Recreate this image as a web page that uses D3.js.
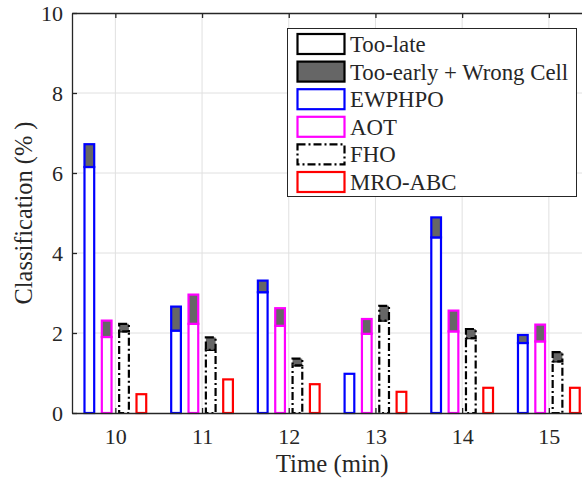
<!DOCTYPE html>
<html>
<head>
<meta charset="utf-8">
<script src="https://cdnjs.cloudflare.com/ajax/libs/d3/7.8.5/d3.min.js"></script>
<style>
  body { margin: 0; background: #fff; }
  text { font-family: "Liberation Serif", "Times New Roman", serif; fill: #262626; }
</style>
</head>
<body>
<div id="chart"></div>
<script>
var times = [10, 11, 12, 13, 14, 15];
var yTicks = [0, 2, 4, 6, 8, 10];

// too-late part (bottom) and too-early + wrong cell part (top), %
var ewphpoLate  = [6.15, 2.06, 3.02, 0.98, 4.39, 1.75];
var ewphpoEarly = [0.57, 0.60, 0.29, 0.00, 0.50, 0.20];
var aotLate     = [1.90, 2.23, 2.18, 1.98, 2.04, 1.79];
var aotEarly    = [0.41, 0.73, 0.44, 0.37, 0.52, 0.42];
var fhoLate     = [2.04, 1.58, 1.19, 2.31, 1.87, 1.29];
var fhoEarly    = [0.19, 0.31, 0.17, 0.37, 0.23, 0.23];
var mroLate     = [0.47, 0.84, 0.72, 0.53, 0.63, 0.63];
var mroEarly    = [0, 0, 0, 0, 0, 0];

var legendLabels = ["Too-late", "Too-early + Wrong Cell", "EWPHPO", "AOT", "FHO", "MRO-ABC"];

const DASHDOT = "8,3,2,3";

var series = [
    { name: "EWPHPO", late: ewphpoLate, early: ewphpoEarly, color: "#0000ff", dash: null, off: -0.3 },
    { name: "AOT", late: aotLate, early: aotEarly, color: "#ff00ff", dash: null, off: -0.1 },
    { name: "FHO", late: fhoLate, early: fhoEarly, color: "#000000", dash: DASHDOT, off: 0.1 },
    { name: "MRO-ABC", late: mroLate, early: mroEarly, color: "#ff0000", dash: null, off: 0.3 }
];

const W = 582, H = 478;
const LEFT = 72, TOP = 13, BOTTOM = 413;
const BAR_W = 0.112;
const DARK = "#666666";
const AXIS = "#262626";
const FONT = "'Liberation Serif', 'Times New Roman', serif";

var svg = d3.select("#chart").append("svg")
    .attr("width", W)
    .attr("height", H);

var x = d3.scaleLinear().domain([9.5, 15.5]).range([LEFT, LEFT + 6 * 86.7]);
var y = d3.scaleLinear().domain([0, 10]).range([BOTTOM, TOP]);

// grid
svg.append("g")
    .selectAll("line")
    .data(times)
    .enter()
    .append("line")
    .attr("x1", function (d) { return x(d); })
    .attr("x2", function (d) { return x(d); })
    .attr("y1", TOP)
    .attr("y2", BOTTOM)
    .attr("stroke", "#e0e0e0")
    .attr("stroke-width", 1);

svg.append("g")
    .selectAll("line")
    .data(yTicks.slice(1, -1))
    .enter()
    .append("line")
    .attr("x1", LEFT)
    .attr("x2", W)
    .attr("y1", function (d) { return y(d); })
    .attr("y2", function (d) { return y(d); })
    .attr("stroke", "#e0e0e0")
    .attr("stroke-width", 1);

// bars
series.forEach(function (s) {
    var g = svg.append("g");
    g.selectAll("rect.late")
        .data(times)
        .enter()
        .append("rect")
        .attr("class", "late")
        .attr("x", function (d) { return x(d + s.off - BAR_W / 2); })
        .attr("width", function () { return x(BAR_W) - x(0); })
        .attr("y", function (d, i) { return y(s.late[i]); })
        .attr("height", function (d, i) { return y(0) - y(s.late[i]); })
        .attr("fill", "white")
        .attr("stroke", s.color)
        .attr("stroke-width", 2.2)
        .attr("stroke-dasharray", s.dash);
    g.selectAll("rect.early")
        .data(times.filter(function (d, i) { return s.early[i] > 0; }))
        .enter()
        .append("rect")
        .attr("class", "early")
        .attr("x", function (d) { return x(d + s.off - BAR_W / 2); })
        .attr("width", function () { return x(BAR_W) - x(0); })
        .attr("y", function (d) { var i = times.indexOf(d); return y(s.late[i] + s.early[i]); })
        .attr("height", function (d) { var i = times.indexOf(d); return y(s.late[i]) - y(s.late[i] + s.early[i]); })
        .attr("fill", DARK)
        .attr("stroke", s.color)
        .attr("stroke-width", 2.2)
        .attr("stroke-dasharray", s.dash);
});

// axes
var xAxis = svg.append("g")
    .attr("transform", "translate(0," + BOTTOM + ")")
    .call(d3.axisBottom(x).tickValues(times).tickFormat(d3.format("d")).tickSize(-5).tickSizeOuter(0).tickPadding(15));
var yAxis = svg.append("g")
    .attr("transform", "translate(" + LEFT + ",0)")
    .call(d3.axisLeft(y).tickValues(yTicks).tickFormat(d3.format("d")).tickSize(-5).tickSizeOuter(0).tickPadding(9));
var topAxis = svg.append("g")
    .attr("transform", "translate(0," + TOP + ")")
    .call(d3.axisTop(x).tickValues(times).tickSize(-5).tickSizeOuter(0).tickFormat(""));

[xAxis, yAxis, topAxis].forEach(function (a) {
    a.select(".domain").attr("stroke", AXIS).attr("stroke-width", 1.3);
    a.selectAll(".tick line").attr("stroke", AXIS).attr("stroke-width", 1.3);
    a.selectAll(".tick text")
        .style("font-family", FONT)
        .style("font-size", "22px")
        .style("fill", AXIS);
});

svg.append("text")
    .attr("x", x(12.5))
    .attr("y", 472)
    .attr("text-anchor", "middle")
    .style("font-size", "24.8px")
    .text("Time (min)");

svg.append("text")
    .attr("transform", "translate(32," + ((TOP + BOTTOM) / 2) + ") rotate(-90)")
    .attr("text-anchor", "middle")
    .style("font-size", "24.4px")
    .text("Classification (% )");

// legend
var lg = svg.append("g");
lg.append("rect")
    .attr("x", 287.5)
    .attr("y", 28.5)
    .attr("width", 289)
    .attr("height", 168)
    .attr("fill", "white")
    .attr("stroke", AXIS)
    .attr("stroke-width", 1);

var legendStyle = [
    { stroke: "#000000", fill: "white", dash: null },
    { stroke: "#000000", fill: DARK, dash: null },
    { stroke: "#0000ff", fill: "white", dash: null },
    { stroke: "#ff00ff", fill: "white", dash: null },
    { stroke: "#000000", fill: "white", dash: DASHDOT },
    { stroke: "#ff0000", fill: "white", dash: null }
];

var rows = lg.selectAll("g.row")
    .data(legendLabels)
    .enter()
    .append("g")
    .attr("class", "row")
    .attr("transform", function (d, i) { return "translate(0," + (i * 27.6) + ")"; });

rows.append("rect")
    .attr("x", 297.5)
    .attr("y", 34)
    .attr("width", 47)
    .attr("height", 20)
    .attr("fill", function (d, i) { return legendStyle[i].fill; })
    .attr("stroke", function (d, i) { return legendStyle[i].stroke; })
    .attr("stroke-width", 2.2)
    .attr("stroke-dasharray", function (d, i) { return legendStyle[i].dash; });

rows.append("text")
    .attr("x", 350)
    .attr("y", 52)
    .style("font-size", "22.8px")
    .text(function (d) { return d; });
</script>
</body>
</html>
